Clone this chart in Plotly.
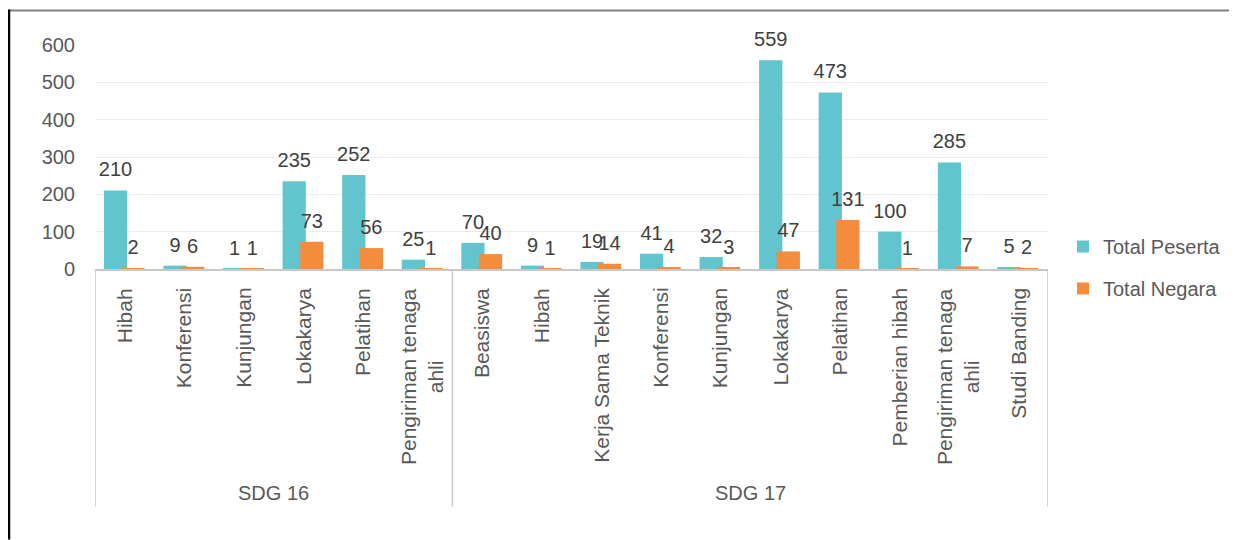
import plotly.graph_objects as go

groups = ["SDG 16"] * 6 + ["SDG 17"] * 10
kegiatan = ["Hibah", "Konferensi", "Kunjungan", "Lokakarya", "Pelatihan",
            "Pengiriman tenaga<br>ahli",
            "Beasiswa", "Hibah", "Kerja Sama Teknik", "Konferensi", "Kunjungan",
            "Lokakarya", "Pelatihan", "Pemberian hibah",
            "Pengiriman tenaga<br>ahli", "Studi Banding"]
total_peserta = [210, 9, 1, 235, 252, 25, 70, 9, 19, 41, 32, 559, 473, 100, 285, 5]
total_negara = [2, 6, 1, 73, 56, 1, 40, 1, 14, 4, 3, 47, 131, 1, 7, 2]
yticks = [0, 100, 200, 300, 400, 500, 600]

C_PES = "#62c4cd"
C_NEG = "#f38d3d"
FONT = "Arial, 'Liberation Sans', sans-serif"
FS = 20
FSX = 21

# page is offset by the 8px body margin
PAD = 8
W, H = 1237, 540
L, R, T, B = 95, 1048, 44.5, 269   # plot area in page pixels

OFF_P, OFF_N, BW = -0.35, -0.055, 0.39

idx = list(range(len(kegiatan)))

fig = go.Figure()
fig.add_trace(go.Bar(x=idx, y=total_peserta, name="Total Peserta",
                     marker=dict(color=C_PES, line=dict(width=0)),
                     offset=OFF_P, width=BW, legendgroup="a"))
fig.add_trace(go.Bar(x=idx, y=total_negara, name="Total Negara",
                     marker=dict(color=C_NEG, line=dict(width=0)),
                     offset=OFF_N, width=BW, legendgroup="b"))

for vals, off in [(total_peserta, OFF_P), (total_negara, OFF_N)]:
    fig.add_trace(go.Scatter(x=[i + off + BW / 2 for i in idx], y=vals,
                             mode="markers+text",
                             marker=dict(size=13, opacity=0),
                             text=[str(v) for v in vals], textposition="top center",
                             textfont=dict(family=FONT, size=FS, color="#404040"),
                             cliponaxis=False, showlegend=False, hoverinfo="skip"))


def px(x):
    return (x - L) / (R - L)


def py(y):
    return (B - y) / (B - T)


annotations = []
for i, name in enumerate(kegiatan):
    annotations.append(dict(x=i, xref="x", y=py(286), yref="paper", text=name,
                            textangle=-90, xanchor="center", yanchor="top",
                            align="center", showarrow=False,
                            font=dict(family=FONT, size=FSX, color="#595959")))

shapes = []
group_names = []
for g in groups:
    if g not in group_names:
        group_names.append(g)
bounds = [-0.5]
for g in group_names:
    members = [i for i, gg in enumerate(groups) if gg == g]
    annotations.append(dict(x=sum(members) / len(members), xref="x", y=py(493),
                            yref="paper", text=g, xanchor="center", yanchor="middle",
                            showarrow=False,
                            font=dict(family=FONT, size=FS, color="#595959")))
    bounds.append(members[-1] + 0.5)
for b in bounds:
    shapes.append(dict(type="line", xref="x", yref="paper", x0=b, x1=b,
                       y0=py(269), y1=py(507), line=dict(color="#c8c8c8", width=1.5)))

# outer frame edges (screenshot border)
shapes.append(dict(type="line", xref="paper", yref="paper", x0=px(8), x1=px(1237),
                   y0=py(10), y1=py(10), line=dict(color="#808080", width=2)))
shapes.append(dict(type="line", xref="paper", yref="paper", x0=px(9), x1=px(9),
                   y0=py(9), y1=py(540), line=dict(color="#000000", width=2.5)))

fig.update_layout(
    width=W - PAD, height=H - PAD,
    margin=dict(l=L - PAD, r=W - R, t=T - PAD, b=H - B, autoexpand=False),
    paper_bgcolor="white", plot_bgcolor="white",
    barmode="overlay",
    font=dict(family=FONT, size=FS, color="#595959"),
    xaxis=dict(range=[-0.5, 15.5], showticklabels=False, ticks="",
               showline=True, linecolor="#c8c8c8", linewidth=1.5,
               showgrid=False, zeroline=False),
    yaxis=dict(range=[0, 600], tickvals=yticks, showgrid=True, gridcolor="#ebebeb",
               gridwidth=1, zeroline=False, showline=False, ticks="",
               ticklabelstandoff=19, tickfont=dict(size=FS, color="#595959")),
    legend=dict(x=px(1063), xanchor="left", y=py(267.5), yanchor="middle",
                font=dict(size=FS, color="#595959"), tracegroupgap=13,
                traceorder="grouped", bgcolor="rgba(0,0,0,0)"),
    shapes=shapes,
    annotations=annotations,
)

fig.write_html("out.html")
